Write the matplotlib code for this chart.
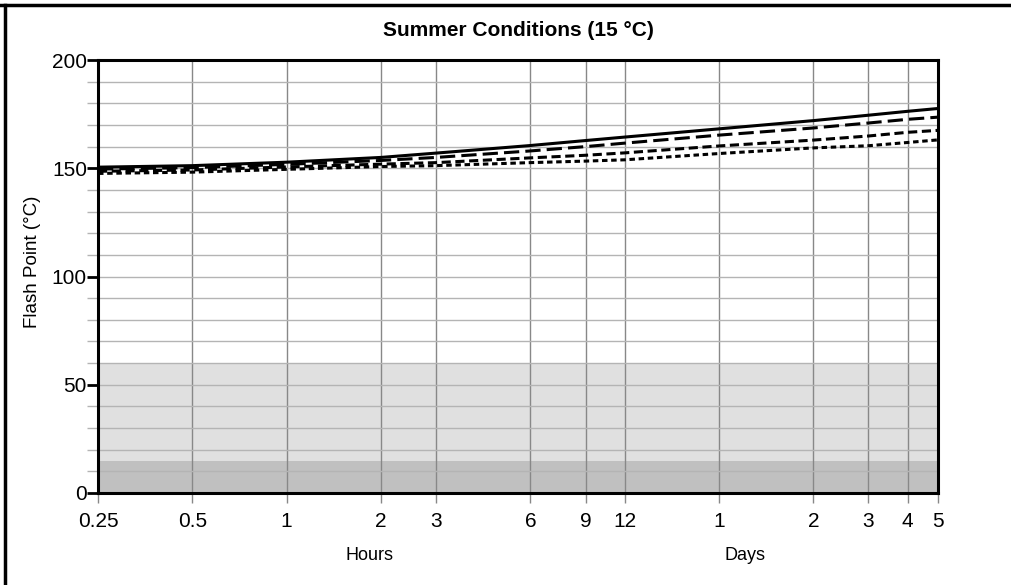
import numpy as np
import matplotlib
matplotlib.use("Agg")
import matplotlib.pyplot as plt
from matplotlib.ticker import FixedLocator, MultipleLocator, NullFormatter
from matplotlib.lines import Line2D

plt.rcParams['font.family'] = ['Liberation Sans', 'DejaVu Sans']

# time in hours
hours = [0.25, 0.5, 1, 2, 3, 6, 9, 12, 24, 48, 72, 96, 120]
tick_labels = ['0.25', '0.5', '1', '2', '3', '6', '9', '12', '1', '2', '3', '4', '5']

# flash point curves (°C)
fp_solid = [150.5, 151.2, 152.8, 155.0, 157.0, 160.5, 162.8, 164.4, 168.2, 172.0, 174.5, 176.3, 177.6]
fp_long = [149.6, 150.3, 151.8, 153.6, 155.0, 158.0, 160.0, 161.6, 165.3, 168.6, 170.9, 172.6, 173.6]
fp_medium = [148.6, 149.2, 150.6, 151.9, 152.6, 154.8, 156.0, 157.1, 160.3, 163.0, 164.9, 166.6, 167.5]
fp_short = [147.6, 148.2, 149.5, 150.8, 151.2, 152.6, 153.3, 153.9, 156.8, 159.4, 160.4, 161.9, 163.1]

# shaded bands
band_light = (0, 60)
band_dark = (0, 15)

fig = plt.figure(figsize=(10.12, 5.85), dpi=100)
ax = fig.add_axes([98 / 1012, 92 / 585, 840 / 1012, 433 / 585])

ax.set_xscale('log')
ax.set_xlim(0.25, 120)
ax.set_ylim(0, 200)

ax.axhspan(*band_light, color='#e0e0e0', zorder=0, lw=0)
ax.axhspan(*band_dark, color='#c0c0c0', zorder=0, lw=0)

# grid
ax.xaxis.set_major_locator(FixedLocator(hours))
ax.xaxis.set_minor_locator(FixedLocator([]))
ax.set_xticklabels(tick_labels)
ax.yaxis.set_major_locator(MultipleLocator(50))
ax.yaxis.set_minor_locator(MultipleLocator(10))
ax.yaxis.set_minor_formatter(NullFormatter())
ax.grid(axis='y', which='both', color='#b4b4b4', lw=1.0, zorder=1)
ax.grid(axis='x', which='major', color='#888888', lw=1.0, zorder=1)

# curves
ax.plot(hours, fp_solid, color='black', lw=2.2, ls='-', zorder=3)
ax.plot(hours, fp_long, color='black', lw=2.2, ls=(0, (5.0, 2.0)), zorder=3)
ax.plot(hours, fp_medium, color='black', lw=2.2, ls=(0, (3.0, 1.5)), zorder=3)
ax.plot(hours, fp_short, color='black', lw=2.2, ls=(0, (1.8, 1.2)), zorder=3)

for s in ax.spines.values():
    s.set_linewidth(2.2)
    s.set_color('black')
    s.set_zorder(4)

ax.tick_params(axis='x', which='major', length=7, width=1, color='#888888',
               labelsize=15, pad=7)
ax.tick_params(axis='y', which='major', length=8, width=2, color='black',
               labelsize=15, pad=0)
ax.tick_params(axis='y', which='minor', length=8, width=1, color='#b4b4b4')

fig.text(518 / 1012, 1 - 31 / 585, 'Summer Conditions (15 °C)', ha='center', va='center',
         fontsize=15, fontweight='bold')
fig.text(33 / 1012, 1 - 262 / 585, 'Flash Point (°C)', ha='center', va='center',
         rotation=90, fontsize=13.5)

fig.text(370 / 1012, 1 - 555 / 585, 'Hours', ha='center', va='center', fontsize=13)
fig.text(745 / 1012, 1 - 555 / 585, 'Days', ha='center', va='center', fontsize=13)

# outer frame (top and left edges)
fig.add_artist(Line2D([0, 1], [1 - 4.5 / 585, 1 - 4.5 / 585], color='black', lw=2.5,
                      transform=fig.transFigure))
fig.add_artist(Line2D([5.5 / 1012, 5.5 / 1012], [0, 1 - 4.5 / 585], color='black', lw=2.5,
                      transform=fig.transFigure))

fig.savefig('out.png', dpi=100)
